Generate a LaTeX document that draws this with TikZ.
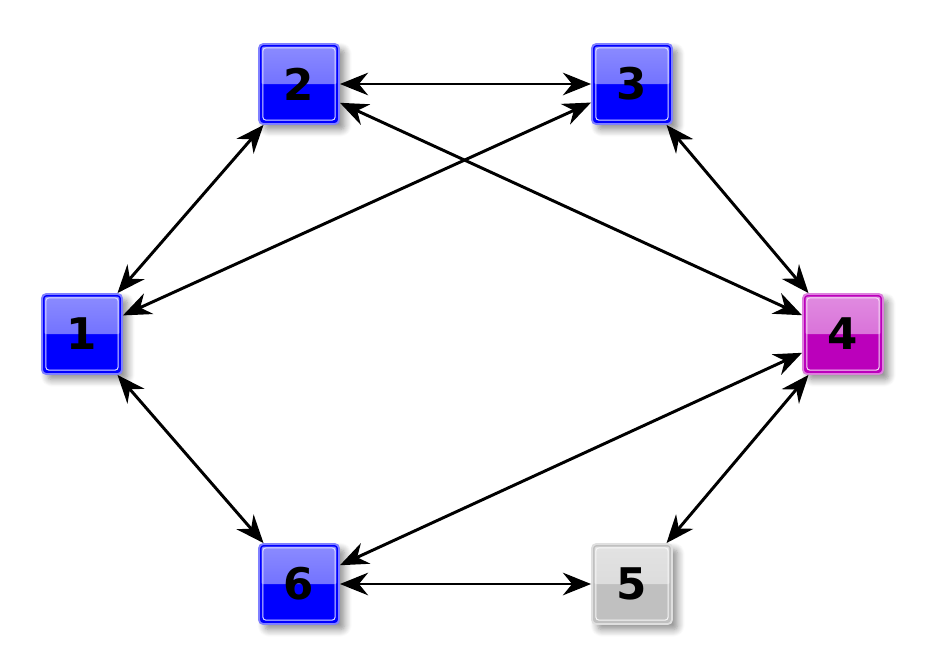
\documentclass[tikz,border=0pt]{standalone}
\usepackage{fontspec}
\setmainfont{DejaVu Sans}
\usepackage{tikz}
\usetikzlibrary{arrows.meta,positioning,calc,shadows.blur}
\definecolor{cnode}{RGB}{0,0,255}
\definecolor{cmag}{RGB}{187,0,187}
\definecolor{cgray}{RGB}{192,192,192}
\tikzset{
  vert/.style={draw=#1!50!white, line width=1.3pt, rounded corners=3pt,
    fill=#1, minimum size=2cm, inner sep=0pt,
    font=\fontsize{31}{32}\selectfont\bfseries, text=black,
    blur shadow={shadow xshift=4pt, shadow yshift=-4pt, shadow blur radius=5pt,
      shadow blur steps=8, shadow opacity=45},
    path picture={
      \shade[top color=#1!45!white, bottom color=#1!65!white]
        (path picture bounding box.north west) rectangle (path picture bounding box.east);
      \draw[#1, line width=1.2pt, rounded corners=2pt]
        ([shift={(1.2pt,-1.2pt)}]path picture bounding box.north west) rectangle
        ([shift={(-1.2pt,1.2pt)}]path picture bounding box.south east);
      \draw[white!85!#1, line width=0.7pt, rounded corners=2pt]
        ([shift={(2.8pt,-2.8pt)}]path picture bounding box.north west) rectangle
        ([shift={(-2.8pt,2.8pt)}]path picture bounding box.south east);
    }},
  link/.style={line width=2.1pt, {Stealth[length=20pt,width=16pt]}-{Stealth[length=20pt,width=16pt]}}
}
\begin{document}
\begin{tikzpicture}[x=0.025cm,y=-0.025cm]
  \useasboundingbox (0,0) rectangle (928,667);
  % vertices
  \node[vert=cnode] (v1) at (82,334) {1};
  \node[vert=cnode] (v2) at (299,84) {2};
  \node[vert=cnode] (v3) at (632,84) {3};
  \node[vert=cmag] (v4) at (843,334) {4};
  \node[vert=cgray] (v5) at (632,584) {5};
  \node[vert=cnode] (v6) at (299,584) {6};
  % edges
  \foreach \a/\b in {v1/v2,v1/v3,v1/v6,v2/v3,v2/v4,v3/v4,v4/v6,v4/v5,v6/v5}
    \draw[link] (\a) -- (\b);
\end{tikzpicture}
\end{document}
